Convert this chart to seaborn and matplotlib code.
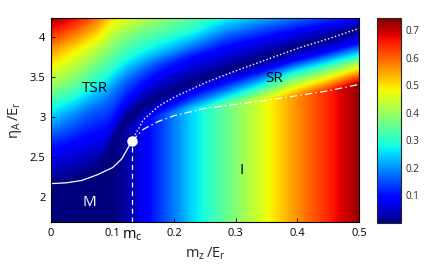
import numpy as np
import matplotlib
matplotlib.use("Agg")
import matplotlib.pyplot as plt
import seaborn as sns

# critical point on the m_z axis
m_c = 0.131

# columns (m_z / E_r) where the boundaries / values were read
m_cols = [0, 0.025, 0.05, 0.075, 0.1, 0.115, 0.131, 0.15, 0.175, 0.2, 0.25, 0.3, 0.35, 0.4, 0.45, 0.5]

# M / TSR boundary (solid line), m <= m_c
eta_solid = [2.17, 2.18, 2.21, 2.28, 2.37, 2.48, 2.70]
# TSR / SR (dotted) and SR / I (dash-dot), m >= m_c
eta_dotted = [2.70, 2.97, 3.14, 3.25, 3.43, 3.58, 3.72, 3.86, 3.98, 4.11]
eta_dashdot = [2.70, 2.85, 2.95, 3.02, 3.11, 3.16, 3.21, 3.27, 3.33, 3.41]

# colour value in the I phase (only depends on m_z), m >= m_c
val_I = [0.0, 0.02, 0.07, 0.13, 0.25, 0.35, 0.45, 0.55, 0.64, 0.73]
# SR phase: values at 3/4, 1/2, 1/4 of the way from the dotted line down to the dash-dot line
val_SR = [[0.0, 0.0, 0.0],
          [0.015, 0.01, 0.005],
          [0.05, 0.03, 0.02],
          [0.09, 0.06, 0.03],
          [0.17, 0.11, 0.05],
          [0.25, 0.15, 0.07],
          [0.33, 0.20, 0.07],
          [0.42, 0.27, 0.08],
          [0.47, 0.29, 0.09],
          [0.52, 0.30, 0.09]]
# TSR phase: values at 20/40/60/80/100 % of the way from the boundary up to the top
val_TSR = [[0.09, 0.24, 0.40, 0.55, 0.72],
           [0.08, 0.21, 0.38, 0.52, 0.70],
           [0.075, 0.19, 0.36, 0.49, 0.67],
           [0.075, 0.17, 0.33, 0.46, 0.63],
           [0.08, 0.165, 0.30, 0.43, 0.58],
           [0.095, 0.17, 0.30, 0.41, 0.54],
           [0.11, 0.18, 0.30, 0.39, 0.50],
           [0.10, 0.18, 0.29, 0.37, 0.47],
           [0.08, 0.16, 0.27, 0.345, 0.43],
           [0.06, 0.135, 0.25, 0.33, 0.40],
           [0.045, 0.10, 0.20, 0.29, 0.34],
           [0.04, 0.08, 0.14, 0.21, 0.28],
           [0.035, 0.07, 0.12, 0.17, 0.23],
           [0.03, 0.06, 0.10, 0.14, 0.185],
           [0.025, 0.05, 0.08, 0.11, 0.14],
           [0.02, 0.04, 0.06, 0.08, 0.10]]

x_ticks = [0, 0.1, m_c, 0.2, 0.3, 0.4, 0.5]
x_ticklabels = ['0', '0.1', r'$\mathrm{m_c}$', '0.2', '0.3', '0.4', '0.5']
y_ticks = [2, 2.5, 3, 3.5, 4]
cb_ticks = [0.1, 0.2, 0.3, 0.4, 0.5, 0.6, 0.7]

y_lo, y_hi = 1.69, 4.24
v_max = 0.745

sns.set_style("ticks")
plt.rcParams['font.family'] = ['Open Sans', 'DejaVu Sans']
plt.rcParams['mathtext.fontset'] = 'custom'
plt.rcParams['mathtext.rm'] = 'Open Sans'
plt.rcParams['mathtext.it'] = 'Open Sans:italic'

# column profiles that follow the phase boundaries
n_low = len(eta_solid)
m_lo = np.array(m_cols[:n_low])
m_hi = np.array(m_cols[n_low - 1:])
xl = np.linspace(0, m_c, 80, endpoint=False)
xh = np.linspace(m_c, 0.5, 320)
xs = np.concatenate([xl, xh])

solid_f = np.interp(xl, m_lo, eta_solid)
lower = np.concatenate([solid_f, np.interp(xh, m_hi, eta_dashdot)])
upper = np.concatenate([solid_f, np.interp(xh, m_hi, eta_dotted)])
base = np.concatenate([np.zeros_like(xl), np.interp(xh, m_hi, val_I)])
sr_arr = np.array(val_SR)
sr = [np.concatenate([np.zeros_like(xl), np.interp(xh, m_hi, sr_arr[:, i])]) for i in range(3)]
tsr_arr = np.array(val_TSR)
tsr = [np.interp(xs, m_cols, tsr_arr[:, i]) for i in range(5)]

g_frac = [0.75, 0.5, 0.25]
f_frac = [0.2, 0.4, 0.6, 0.8, 1.0]
Y = [np.full_like(lower, y_lo), lower]
Y += [upper + g * (lower - upper) for g in g_frac]
Y += [upper]
Y += [upper + f * (y_hi - upper) for f in f_frac]
C = [base, base] + sr + [np.zeros_like(upper)] + tsr
Y = np.array(Y)
C = np.array(C)

# resample every column onto a regular eta grid
eta_grid = np.linspace(y_lo, y_hi, 400)
field = np.column_stack([np.interp(eta_grid, Y[:, j], C[:, j]) for j in range(len(xs))])

fig = plt.figure(figsize=(4.36, 2.67), dpi=100)
ax = fig.add_axes([0.117, 0.1685, 0.7064, 0.764])
img = ax.imshow(field, extent=[0, 0.5, y_lo, y_hi], origin='lower', aspect='auto',
                cmap='jet', vmin=0, vmax=v_max, interpolation='bilinear')

# phase boundaries
sns.lineplot(x=m_cols[:n_low], y=eta_solid, color='white', lw=0.9, sort=False, errorbar=None, ax=ax)
sns.lineplot(x=m_cols[n_low - 1:], y=eta_dotted, color='white', lw=1.0, linestyle=(0, (1.0, 1.6)),
             sort=False, errorbar=None, ax=ax)
sns.lineplot(x=m_cols[n_low - 1:], y=eta_dashdot, color='white', lw=0.9, linestyle=(0, (6, 2.5, 1.2, 2.5)),
             sort=False, errorbar=None, ax=ax)
ax.plot([m_c, m_c], [y_lo, eta_solid[-1]], color='white', lw=0.9, linestyle=(0, (4, 3)))
ax.plot(m_c, eta_solid[-1], 'o', color='white', ms=6.5, mec='white')

# phase names
ax.text(0.071, 3.36, 'TSR', fontsize=11, color='black', ha='center', va='center')
ax.text(0.362, 3.49, 'SR', fontsize=11, color='black', ha='center', va='center')
ax.text(0.31, 2.34, 'I', fontsize=11, color='black', ha='center', va='center')
ax.text(0.063, 1.93, 'M', fontsize=11, color='white', ha='center', va='center')

ax.set_xlim(0, 0.5)
ax.set_ylim(y_lo, y_hi)
ax.set_xticks(x_ticks)
ax.set_xticklabels(x_ticklabels)
ax.set_yticks(y_ticks)
ax.set_yticklabels(['2', '2.5', '3', '3.5', '4'])
ax.tick_params(direction='in', length=3, width=0.6, labelsize=8, colors='black', pad=4,
               top=False, right=False)
for lab in ax.get_xticklabels():
    if 'm' in lab.get_text():
        lab.set_fontsize(10.5)
for s in ax.spines.values():
    s.set_visible(True)
    s.set_linewidth(0.8)
    s.set_color('black')
ax.set_xlabel(r'$\mathrm{m_z\,/E_r}$', fontsize=10.5, labelpad=2)
ax.set_ylabel(r'$\mathrm{\eta_A\,/E_r}$', fontsize=10.5, labelpad=4)

cax = fig.add_axes([0.8647, 0.1648, 0.055, 0.768])
cb = fig.colorbar(img, cax=cax, ticks=cb_ticks)
cb.ax.tick_params(direction='in', length=3, width=0.6, labelsize=7, left=True, right=True)
cb.outline.set_linewidth(0.8)

fig.savefig('out.png', dpi=100)
